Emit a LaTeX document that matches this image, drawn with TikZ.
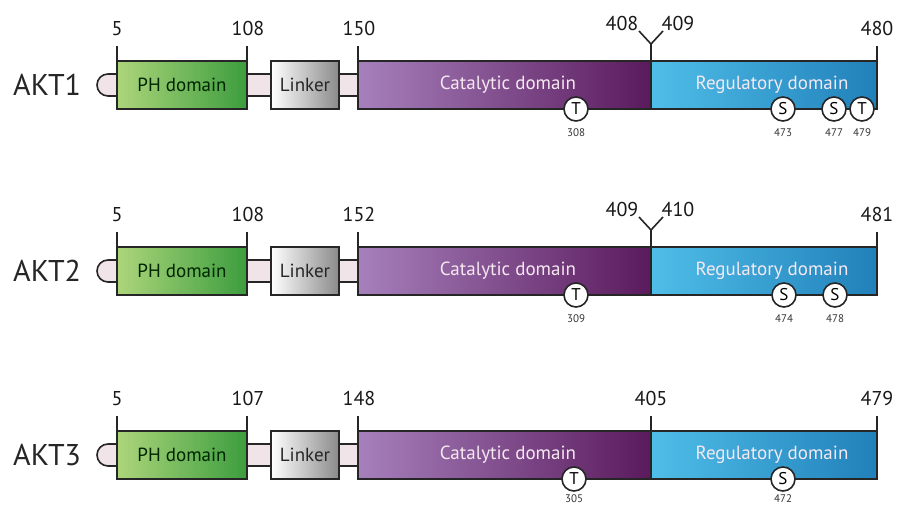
\documentclass[tikz,border=0pt]{standalone}
\usepackage{fontspec}
\setmainfont{PT Sans}
\definecolor{edge}{HTML}{262626}
\definecolor{phL}{HTML}{ADD57B}
\definecolor{phR}{HTML}{3C9D3E}
\definecolor{lkR}{HTML}{8A8A8A}
\definecolor{catL}{HTML}{A680BC}
\definecolor{catM}{HTML}{843F88}
\definecolor{catR}{HTML}{5A1A5C}
\definecolor{regL}{HTML}{4FBEE8}
\definecolor{regR}{HTML}{2180BA}
\definecolor{barfill}{HTML}{F0E4E8}
\definecolor{lighttxt}{HTML}{F5E8F1}
\tikzset{
  dombox/.style={draw=edge, line width=1.6pt, inner sep=0pt, outer sep=0pt,
    minimum height=48pt, anchor=north west, font=\fontsize{19}{20}\selectfont},
  phbox/.style={dombox, left color=phL, right color=phR, minimum width=130pt, text=black!85!green},
  lkbox/.style={dombox, left color=white, middle color=white!80!lkR, right color=lkR, minimum width=68pt, text=black!85},
  catbox/.style={dombox, left color=catL, middle color=catM, right color=catR, minimum width=293pt},
  regbox/.style={dombox, left color=regL, right color=regR, minimum width=226pt},
  domtxt/.style={text=lighttxt, font=\fontsize{19}{20}\selectfont, inner sep=0pt},
  barbox/.style={draw=edge, line width=1.6pt, fill=barfill, inner sep=0pt, outer sep=0pt,
    minimum height=22pt, anchor=north west},
  barst/.style={draw=edge, line width=1.6pt, fill=barfill},
  tickln/.style={draw=edge, line width=1.6pt},
  num/.style={anchor=base, inner sep=0pt, text=black!90, font=\fontsize{20}{22}\selectfont},
  akt/.style={anchor=base west, inner sep=0pt, text=black!85, font=\fontsize{30}{32}\selectfont},
  site/.style={circle, draw=edge, line width=1.6pt, fill=white, minimum size=24pt, inner sep=0pt,
    font=\fontsize{17}{17}\selectfont},
  sitelbl/.style={anchor=base, inner sep=0pt, text=black!80, font=\fontsize{11}{12}\selectfont}
}
% #1 id, #2 top, #3 name, #4 PH end, #5 catalytic start, #6 end
\newcommand{\aktrow}[6]{%
  \draw[barst] (117,#2+13) -- (108,#2+13) arc[start angle=270,end angle=90,radius=11] -- (117,#2+35) -- cycle;
  \node[barbox, minimum width=24pt] (bA#1) at (247,#2+13) {};
  \node[barbox, minimum width=19pt] (bB#1) at (339,#2+13) {};
  \node[phbox] (ph#1) at (117,#2) {PH domain};
  \node[lkbox] (lk#1) at (271,#2) {Linker};
  \node[catbox] (cat#1) at (358,#2) {};
  \node[regbox] (reg#1) at (651,#2) {};
  \node[domtxt] (catt#1) at (508,#2+24) {Catalytic domain};
  \node[domtxt] (regt#1) at (772,#2+24) {Regulatory domain};
  \node[akt] (name#1) at (13,#2+34) {#3};
  \draw[tickln] (ph#1.north west) -- ++(0,-15);
  \draw[tickln] (ph#1.north east) -- ++(0,-15);
  \draw[tickln] (cat#1.north west) -- ++(0,-15);
  \draw[tickln] (reg#1.north east) -- ++(0,-15);
  \node[num] (nA#1) at (117,#2-26) {5};
  \node[num] (nB#1) at (248,#2-26) {#4};
  \node[num] (nC#1) at (359,#2-26) {#5};
  \node[num] (nD#1) at (877,#2-26) {#6};
}
\newcommand{\ysplit}[4]{% #1 id, #2 top, #3 left, #4 right
  \coordinate (yj#1) at (651,#2-17);
  \coordinate (yl#1) at (639,#2-30);
  \coordinate (yr#1) at (663,#2-30);
  \draw[tickln] (reg#1.north west) -- (yj#1);
  \draw[tickln, line join=miter] (yl#1) -- (yj#1) -- (yr#1);
  \node[num] (yla#1) at (622,#2-31) {#3};
  \node[num] (yra#1) at (678,#2-31) {#4};
}
\newcommand{\psite}[6]{% #1 name, #2 x, #3 top, #4 letter, #5 number, #6 label baseline offset
  \node[site] (#1) at (#2,#3+48) {#4};
  \node[sitelbl] (#1l) at (#2,#3+#6) {#5};
}
\begin{document}
\begin{tikzpicture}[x=1pt,y=-1pt]
\useasboundingbox[fill=white] (0,0) rectangle (897,504);
% AKT1
\aktrow{1}{61}{AKT1}{108}{150}{480}
\ysplit{1}{61}{408}{409}
\psite{aT}{576}{61}{T}{308}{75}
\psite{aS}{783}{61}{S}{473}{75}
\psite{aSb}{834}{61}{S}{477}{75}
\psite{aTb}{862}{61}{T}{479}{75}
% AKT2
\aktrow{2}{247}{AKT2}{108}{152}{481}
\ysplit{2}{247}{409}{410}
\psite{bT}{576}{247}{T}{309}{75}
\psite{bS}{784}{247}{S}{474}{75}
\psite{bSb}{835}{247}{S}{478}{75}
% AKT3
\aktrow{3}{431}{AKT3}{107}{148}{479}
\draw[tickln] (reg3.north west) -- ++(0,-15);
\node[num] (n405) at (651,431-26) {405};
\psite{cT}{574}{431}{T}{305}{71}
\psite{cS}{783}{431}{S}{472}{71}
\end{tikzpicture}
\end{document}
